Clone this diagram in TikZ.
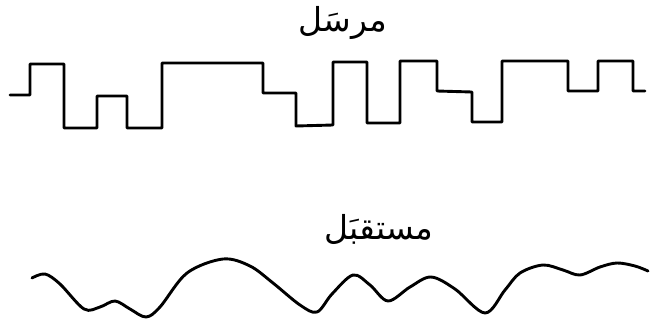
\documentclass[tikz,border=0pt]{standalone}
\usepackage{fontspec}
\newfontfamily\arabicfont[Script=Arabic]{DejaVu Sans}
\TeXXeTstate=1
\begin{document}
\begin{tikzpicture}[x=1pt,y=-1pt,
  sig/.style={line width=2.9pt, line join=round, line cap=round},
  lbl/.style={font=\arabicfont\fontsize{33}{38}\selectfont, inner sep=0pt}]
\useasboundingbox (0,0) rectangle (650,324);
\node[lbl] (tx) at (343,23) {\beginR مرسَل\endR};
\node[lbl] (rx) at (379,229) {\beginR مستقبَل\endR};
\draw[sig] (10,95) -- (30,95) -- (30,64) -- (64,64) -- (64,128) -- (97,128) -- (97,96) -- (127,96) -- (127,128) -- (162,128) -- (162,63) -- (263,63) -- (263,93) -- (296,93) -- (296,126) -- (333,125) -- (333,62) -- (367,62) -- (367,123) -- (400,123) -- (400,61) -- (437,61) -- (437,91) -- (472,92) -- (472,122) -- (502,122) -- (502,61) -- (568,61) -- (568,91) -- (598,91) -- (598,61) -- (633,61) -- (633,91) -- (645,91);
\draw[sig] plot[smooth, tension=0.55] coordinates {(32,278) (45,274) (60,284) (84,309) (100,307) (115,301) (130,309) (146,317) (160,307) (187,273) (223,259) (250,266) (273,283) (300,305) (317,312) (332,294) (353,275) (370,285) (388,301) (410,287) (431,277) (455,289) (485,313) (505,290) (520,273) (543,265) (563,270) (580,275) (600,267) (617,263) (635,266) (648,271)};
\end{tikzpicture}
\end{document}
